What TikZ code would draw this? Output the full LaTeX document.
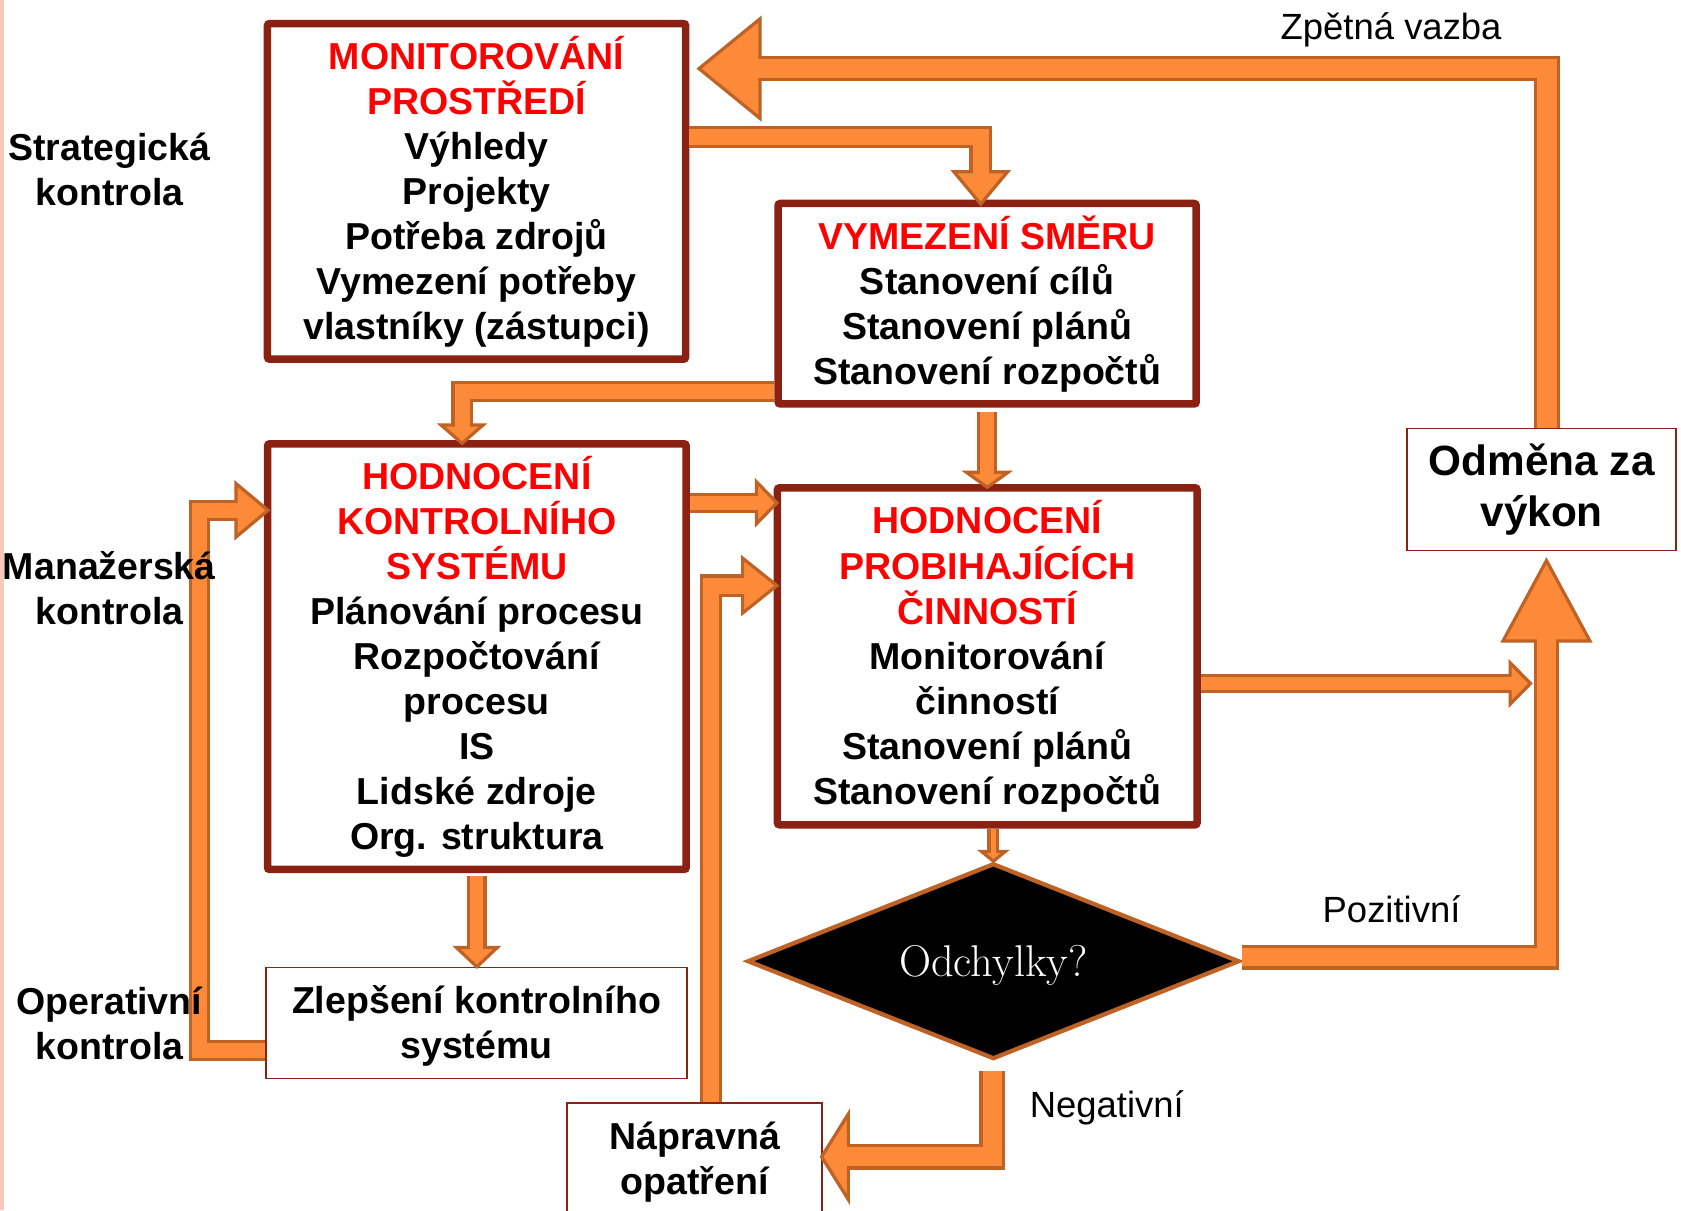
\documentclass[tikz,border=0pt]{standalone}
\usepackage{fontspec}
\newfontfamily\arialfont{Liberation Sans}
\usetikzlibrary{calc,shapes.geometric}
\definecolor{boxred}{RGB}{139,33,18}
\definecolor{titlered}{RGB}{255,0,0}
\definecolor{afill}{RGB}{253,138,56}
\definecolor{aedge}{RGB}{190,98,38}
\definecolor{edgepink}{RGB}{248,200,184}
\newcommand\bigfont{\arialfont\bfseries\fontsize{35}{42}\selectfont}
\newcommand\odmfont{\arialfont\bfseries\fontsize{39.5}{48}\selectfont}
\newcommand\labfont{\arialfont\fontsize{34}{41}\selectfont}
\newcommand\diafont{\rmfamily\fontsize{41.5}{48}\selectfont}
\tikzset{
 bigbox/.style={draw=boxred, line width=7pt, rounded corners=2pt, fill=white, font=\bigfont, align=center, inner sep=0pt},
 thinbox/.style={draw=boxred, line width=1.5pt, fill=white, font=\bigfont, align=center, inner sep=0pt},
 sidelabel/.style={font=\bigfont, align=center, inner sep=0pt},
 plainlabel/.style={font=\labfont, inner sep=0pt, anchor=base},
 headst/.style={fill=afill, draw=aedge, line width=3pt, line join=miter},
}
\newcommand\hdown[3]{\filldraw[headst] (#1) -- ++(-#2,-#3) -- ++(2*#2,0) -- cycle;}
\newcommand\hup[3]{\filldraw[headst] (#1) -- ++(-#2,#3) -- ++(2*#2,0) -- cycle;}
\newcommand\hleft[3]{\filldraw[headst] (#1) -- ++(#3,-#2) -- ++(0,2*#2) -- cycle;}
\newcommand\hright[3]{\filldraw[headst] (#1) -- ++(-#3,-#2) -- ++(0,2*#2) -- cycle;}
\newcommand\fatarrow[4]{%
 \draw[aedge, line width=#1, line join=miter, shorten >=#2] #3;
 #4
 \draw[afill, line width=#1-6, line join=miter, shorten >=#2-3] #3;
}
\begin{document}
\begin{tikzpicture}[x=1pt,y=-1pt]
\useasboundingbox (0,0) rectangle (1568,1129);
\clip (0,0) rectangle (1568,1129);
\fill[white] (0,0) rectangle (1568,1129);
\fill[edgepink] (0,0) rectangle (4,1129);

% boxes
\node[bigbox, minimum width=390pt, minimum height=313pt] (mon) at (444.5,178.5)
 {\textcolor{titlered}{MONITOROVÁNÍ}\\\textcolor{titlered}{PROSTŘEDÍ}\\Výhledy\\Projekty\\Potřeba zdrojů\\Vymezení potřeby\\vlastníky (zástupci)};
\node[bigbox, minimum width=390pt, minimum height=187pt] (vym) at (920.8,283.3)
 {\textcolor{titlered}{VYMEZENÍ SMĚRU}\\Stanovení cílů\\Stanovení plánů\\Stanovení rozpočtů};
\node[bigbox, minimum width=390.5pt, minimum height=397pt] (hks) at (444.8,612.5)
 {\textcolor{titlered}{HODNOCENÍ}\\\textcolor{titlered}{KONTROLNÍHO}\\\textcolor{titlered}{SYSTÉMU}\\Plánování procesu\\Rozpočtování\\procesu\\IS\\Lidské zdroje\\Org. struktura};
\node[bigbox, minimum width=391.4pt, minimum height=314.4pt] (hpc) at (920.9,612.2)
 {\textcolor{titlered}{HODNOCENÍ}\\\textcolor{titlered}{PROBIHAJÍCÍCH}\\\textcolor{titlered}{ČINNOSTÍ}\\Monitorování\\činností\\Stanovení plánů\\Stanovení rozpočtů};
\node[thinbox, font=\odmfont, minimum width=251pt, minimum height=114pt] (odm) at (1438,456.6) {Odměna za\\výkon};
\node[thinbox, minimum width=393pt, minimum height=103.4pt] (zle) at (444.5,954.3) {\rule{0pt}{32pt}Zlepšení kontrolního\\systému};
\node[thinbox, minimum width=238pt, minimum height=104pt] (nap) at (648,1081) {\rule{0pt}{32pt}Nápravná\\opatření};
\node[diamond, aspect=2.51, minimum width=459pt, minimum height=182.6pt, fill=black, draw=aedge, line width=4pt, inner sep=0pt, text=white, text depth=0pt, font=\diafont] (dia) at (926.6,896.6) {Odchylky?};

% arrows
\coordinate (sA) at ($(odm.north)+(5,0)$);
\coordinate (tA) at ($(mon.east)+(9,-114.5)$);
\fatarrow{24}{57}{(sA) |- (tA)}{\hleft{tA}{46.5}{57}}

\coordinate (sB) at ($(mon.east)+(0,-50.5)$);
\coordinate (tB) at ($(vym.north)+(-6,4)$);
\fatarrow{21}{30}{(sB) -| (tB)}{\hdown{tB}{25}{30}}

\coordinate (sC) at ($(vym.west)+(0,81.7)$);
\coordinate (tC) at ($(hks.north)+(-13.8,3)$);
\fatarrow{20}{17}{(sC) -| (tC)}{\hdown{tC}{19.5}{17}}

\coordinate (sD) at ($(vym.south)+(0,4)$);
\coordinate (tD) at ($(hpc.north)+(0,3)$);
\fatarrow{19}{14}{(sD) -- (sD |- tD)}{\hdown{tD}{19.5}{14}}

\coordinate (sE) at ($(hks.east)+(0,-143.5)$);
\coordinate (tE) at ($(hpc.west |- sE)+(3,0)$);
\fatarrow{19}{19}{(sE) -- (tE)}{\hright{tE}{19.5}{19}}

\coordinate (sF) at ($(nap.north)+(15,0)$);
\coordinate (tF) at ($(hpc.west)+(3,-66)$);
\fatarrow{21}{32}{(sF) |- (tF)}{\hright{tF}{25.6}{32}}

\coordinate (sG) at ($(hpc.east)+(0,25.3)$);
\coordinate (tG) at ($(sG -| odm.south)+(-10.4,0)$);
\fatarrow{18}{19}{(sG) -- (tG)}{\hright{tG}{19.3}{19}}

\coordinate (sH) at ($(dia.east)+(0,-3.6)$);
\coordinate (tH) at ($(odm.south)+(4.5,8.5)$);
\fatarrow{23}{75}{(sH) -| (tH)}{\hup{tH}{40.5}{75}}

\coordinate (sI) at ($(dia.south)+(-1,9)$);
\coordinate (tI) at ($(nap.east)+(-1.4,-2)$);
\fatarrow{24}{25}{(sI) |- (tI)}{\hleft{tI}{40}{25}}

\coordinate (tJ) at (dia.north);
\coordinate (sJ) at (hpc.south -| tJ);
\fatarrow{11}{9}{(sJ) -- (tJ)}{\hdown{tJ}{11}{9}}

\coordinate (sK) at ($(hks.south)+(0,3)$);
\coordinate (tK) at (zle.north -| sK);
\fatarrow{18}{18}{(sK) -- (tK)}{\hdown{tK}{19}{18}}

\coordinate (sL) at ($(zle.west)+(0,25.7)$);
\coordinate (tL) at ($(hks.west)+(4,-136.5)$);
\fatarrow{20}{30}{(sL) -- ++(-61,0) |- (tL)}{\hright{tL}{25}{30}}

% labels
\node[sidelabel] (strat) at (102,158) {Strategická\\kontrola};
\node[sidelabel] (manag) at (102,549) {Manažerská\\kontrola};
\node[sidelabel] (oper) at (102,955) {Operativní\\kontrola};
\node[plainlabel] (zpv) at (1297.6,36.7) {Zpětná vazba};
\node[plainlabel] (poz) at (1298,860.7) {Pozitivní};
\node[plainlabel] (neg) at (1032.4,1042.3) {Negativní};
\end{tikzpicture}
\end{document}
